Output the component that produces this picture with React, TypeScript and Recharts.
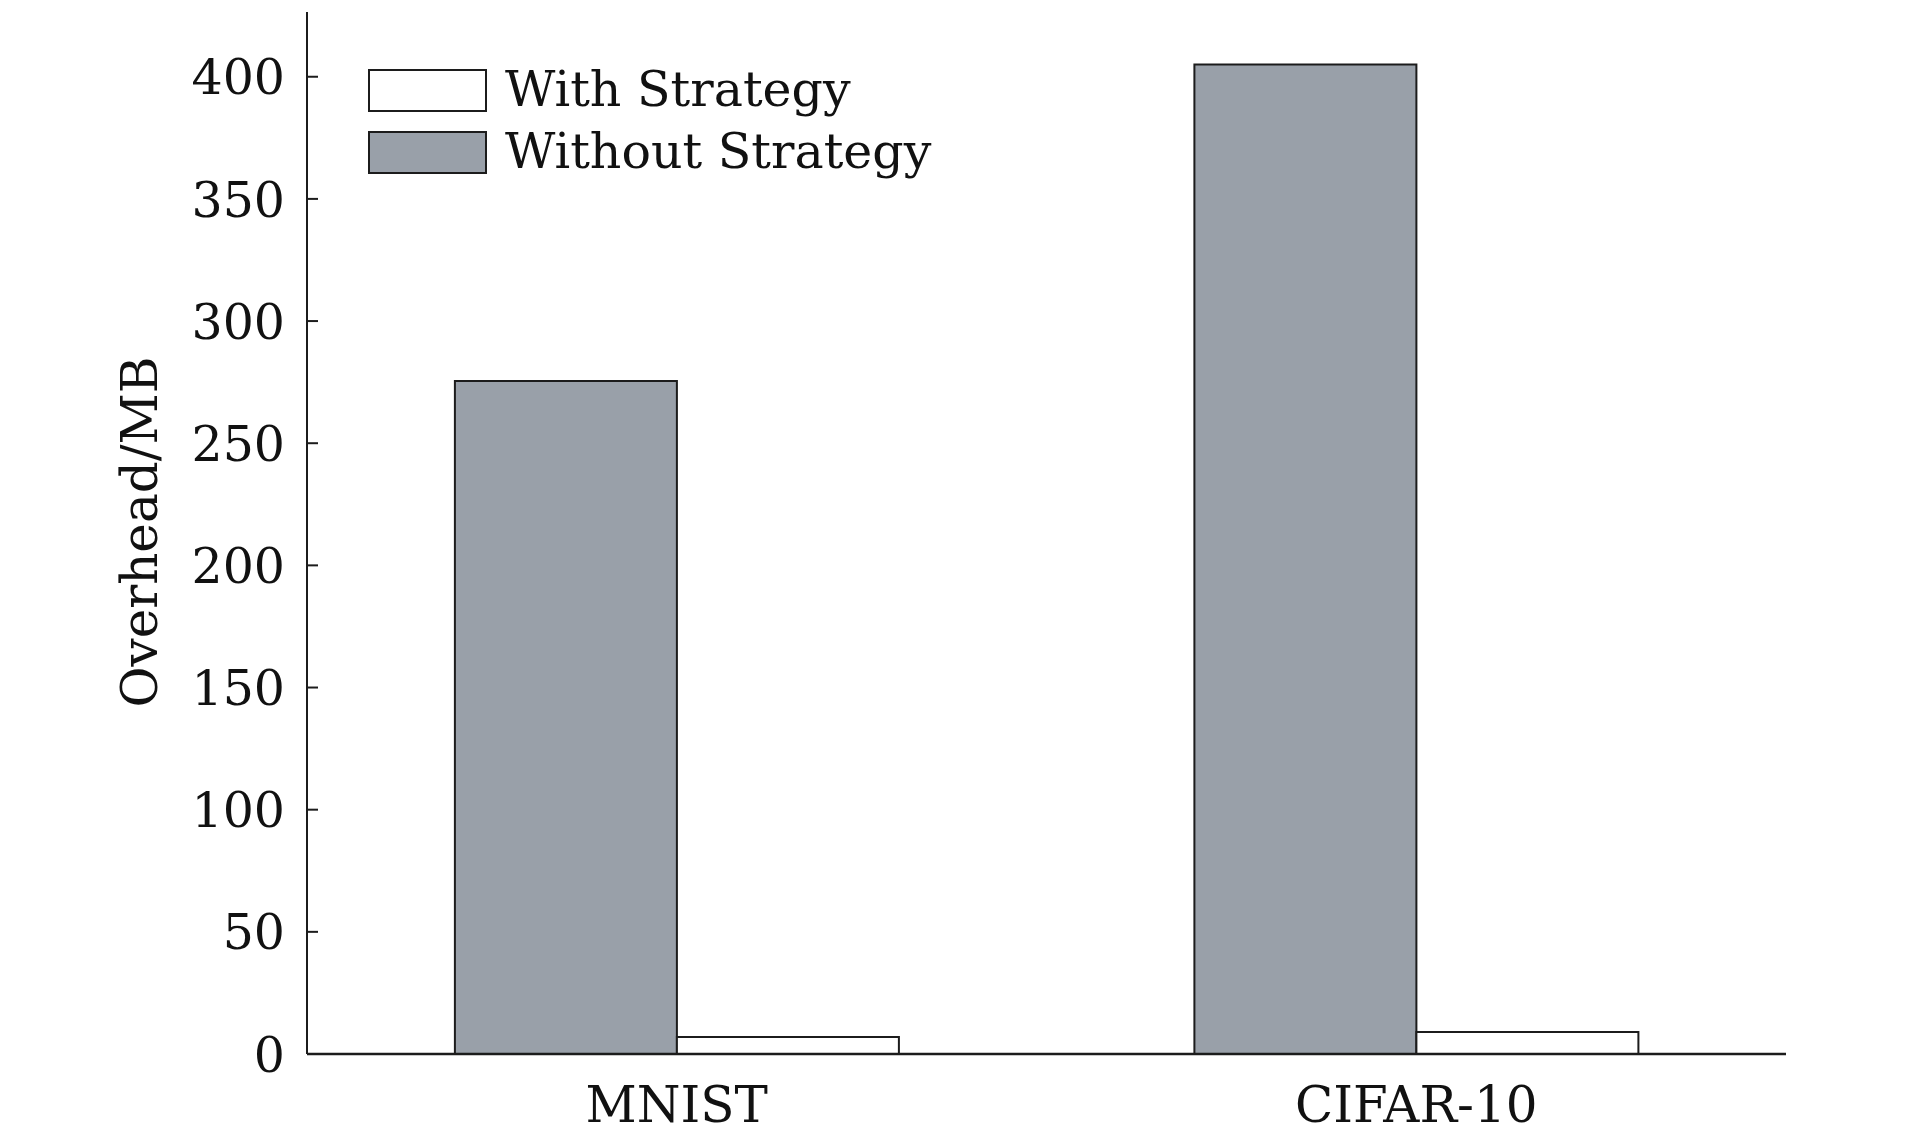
import React from "react";
import { BarChart, Bar, XAxis, YAxis, Legend } from "recharts";

const categories = ["MNIST", "CIFAR-10"];
const withoutStrategy = [275.5, 405];
const withStrategy = [7, 9];
const yTicks = [0, 50, 100, 150, 200, 250, 300, 350, 400];

const FONT = "'DejaVu Serif', serif";
const GRAY = "#99a0a9";
const EDGE = "#1c1c1c";

const legendItems = [
  { label: "With Strategy", fill: "#ffffff" },
  { label: "Without Strategy", fill: GRAY },
];

const data = categories.map((name, i) => ({
  name,
  without: withoutStrategy[i],
  with: withStrategy[i],
}));

function YTick(props: any) {
  const { x, y, payload } = props;
  return (
    <g>
      <line x1={x + 22} x2={x + 33} y1={y} y2={y} stroke={EDGE} strokeWidth={2} />
      <text
        x={x}
        y={y}
        dy="0.36em"
        textAnchor="end"
        fontFamily={FONT}
        fontSize={49}
        fill="#111"
      >
        {payload.value}
      </text>
    </g>
  );
}

function LegendBox() {
  return (
    <div style={{ fontFamily: FONT, fontSize: 49, color: "#111" }}>
      {legendItems.map((item) => (
        <div
          key={item.label}
          style={{ display: "flex", alignItems: "center", height: 62 }}
        >
          <span
            style={{
              display: "inline-block",
              width: 115,
              height: 39,
              background: item.fill,
              border: `2px solid ${EDGE}`,
              marginRight: 18,
            }}
          />
          <span style={{ lineHeight: "50px" }}>{item.label}</span>
        </div>
      ))}
    </div>
  );
}

export default function App() {
  return (
    <BarChart
      width={1897}
      height={1126}
      data={data}
      margin={{ top: 4, right: 119, bottom: 0, left: 0 }}
      barCategoryGap="20%"
      barGap={0}
    >
      <XAxis
        dataKey="name"
        height={80}
        tickSize={0}
        tickMargin={32}
        tickLine={false}
        axisLine={{ stroke: EDGE, strokeWidth: 2.5 }}
        tick={{ fontFamily: FONT, fontSize: 50, fill: "#111" }}
      />
      <YAxis
        width={299}
        domain={[0, 426.5]}
        ticks={yTicks}
        tickSize={0}
        tickMargin={22}
        tickLine={false}
        axisLine={{ stroke: EDGE, strokeWidth: 2 }}
        tick={<YTick />}
        interval={0}
        label={{
          content: ({ viewBox }: any) => (
            <text
              x={(viewBox?.x ?? 0) + 132}
              y={524}
              transform={`rotate(-90, ${(viewBox?.x ?? 0) + 132}, 524)`}
              textAnchor="middle"
              dominantBaseline="central"
              fontFamily={FONT}
              fontSize={50}
              fill="#111"
            >
              Overhead/MB
            </text>
          ),
        }}
      />
      <Legend
        layout="horizontal"
        verticalAlign="middle"
        align="center"
        content={<LegendBox />}
        wrapperStyle={{ position: "absolute", left: 360, top: 51, width: "auto" }}
      />
      <Bar
        dataKey="without"
        name="Without Strategy"
        fill={GRAY}
        stroke={EDGE}
        strokeWidth={2}
        isAnimationActive={false}
      />
      <Bar
        dataKey="with"
        name="With Strategy"
        fill="#ffffff"
        stroke={EDGE}
        strokeWidth={2}
        isAnimationActive={false}
      />
    </BarChart>
  );
}
